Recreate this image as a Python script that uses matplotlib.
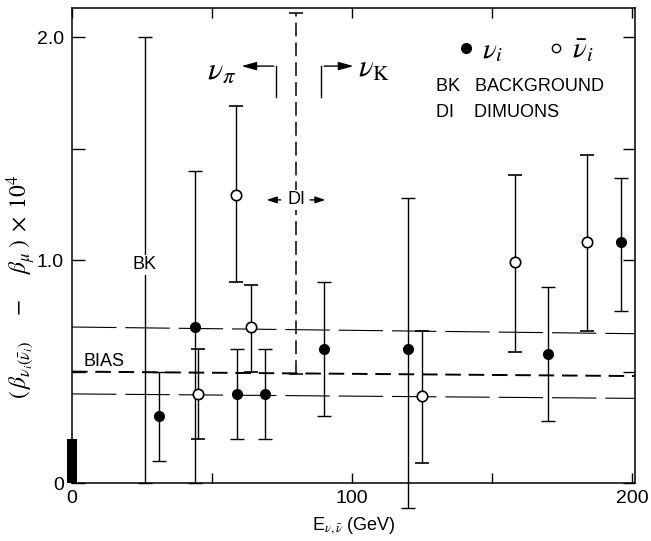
import matplotlib.pyplot as plt

plt.rcParams['font.family'] = ['Liberation Sans', 'DejaVu Sans']
plt.rcParams['mathtext.fontset'] = 'stix'

# neutrino points (filled)
nu_E = [31, 44, 59, 69, 90, 120, 170, 196]
nu_val = [0.30, 0.70, 0.40, 0.40, 0.60, 0.60, 0.58, 1.08]
nu_lo = [0.10, 0.00, 0.20, 0.20, 0.30, -0.11, 0.28, 0.77]
nu_hi = [0.50, 1.40, 0.60, 0.60, 0.90, 1.28, 0.88, 1.37]

# antineutrino points (open)
nubar_E = [45, 58.5, 64, 125, 158, 184]
nubar_val = [0.40, 1.29, 0.70, 0.39, 0.99, 1.08]
nubar_lo = [0.20, 0.90, 0.50, 0.09, 0.59, 0.68]
nubar_hi = [0.60, 1.69, 0.89, 0.68, 1.38, 1.47]

# reference lines: (left value, right value)
band_upper = [0.70, 0.67]
band_bias = [0.50, 0.48]
band_lower = [0.40, 0.38]
line_E = [0, 201]

bk_E = 26
bk_top = 2.0
di_E = 80
di_range = [0.49, 2.11]
zero_bar = 0.2

fig = plt.figure(figsize=(6.51, 5.41), dpi=100)
ax = fig.add_axes([0.1106, 0.107, 0.8648, 0.878])

ax.plot(line_E, band_upper, color='k', lw=0.8, dashes=(40, 8))
ax.plot(line_E, band_lower, color='k', lw=0.8, dashes=(40, 8))
ax.plot(line_E, band_bias, color='k', lw=1.4, dashes=(8, 4))

# background bar
ax.errorbar(bk_E, bk_top / 2, yerr=bk_top / 2, fmt='none', ecolor='k',
            elinewidth=1.0, capsize=5, capthick=1.0, clip_on=False)
ax.text(bk_E, 0.98, 'BK', ha='center', va='center', fontsize=13,
        bbox=dict(facecolor='white', edgecolor='none', pad=1), zorder=5)

# dimuon cut line
ax.plot([di_E, di_E], di_range, color='k', lw=1.1, dashes=(9, 4))
ax.plot([di_E, di_E], di_range, color='k', ls='none', marker='_',
        markersize=10, mew=1.1, clip_on=False)
ax.text(di_E, 1.27, 'DI', ha='center', va='center', fontsize=13,
        bbox=dict(facecolor='white', edgecolor='none', pad=1), zorder=5)
arr = dict(arrowstyle='-|>,head_length=0.6,head_width=0.2', color='k', lw=1.0)
ax.annotate('', xy=(68.5, 1.27), xytext=(75.5, 1.27), arrowprops=arr)
ax.annotate('', xy=(91.5, 1.27), xytext=(84, 1.27), arrowprops=arr)

# nu_pi / nu_K brackets
big = dict(arrowstyle='-|>,head_length=0.9,head_width=0.25', color='k', lw=1.0)
ax.plot([73, 73], [1.73, 1.87], color='k', lw=1.0)
ax.annotate('', xy=(59.5, 1.87), xytext=(73, 1.87), arrowprops=big)
ax.text(58.5, 1.85, r'$\nu_\pi$', ha='right', va='center', fontsize=23)
ax.plot([89, 89], [1.73, 1.87], color='k', lw=1.0)
ax.annotate('', xy=(101.5, 1.87), xytext=(89, 1.87), arrowprops=big)
ax.text(102, 1.86, r'$\nu_{\rm K}$', ha='left', va='center', fontsize=22)

ax.text(4, 0.545, 'BIAS', ha='left', va='center', fontsize=13)

# zero bar
ax.bar([0], [zero_bar], width=3.6, color='k', clip_on=False, zorder=4)

# data
nu_err = [[v - l for v, l in zip(nu_val, nu_lo)],
          [h - v for v, h in zip(nu_val, nu_hi)]]
ax.errorbar(nu_E, nu_val, yerr=nu_err, fmt='o', color='k', ms=7,
            elinewidth=1.0, capsize=5, capthick=1.0, clip_on=False, zorder=6)
nubar_err = [[v - l for v, l in zip(nubar_val, nubar_lo)],
             [h - v for v, h in zip(nubar_val, nubar_hi)]]
ax.errorbar(nubar_E, nubar_val, yerr=nubar_err, fmt='o', color='k', mfc='white',
            mew=1.2, ms=7.5, elinewidth=1.0, capsize=5, capthick=1.0,
            clip_on=False, zorder=6)

# key
ax.plot([140.7], [1.95], 'o', color='k', ms=7)
ax.text(146.5, 1.94, r'$\nu_i$', ha='left', va='center', fontsize=21)
ax.plot([172.9], [1.95], 'o', color='k', mfc='white', ms=6, mew=1.0)
ax.text(178.5, 1.94, r'$\bar{\nu}_i$', ha='left', va='center', fontsize=21)
ax.text(130, 1.78, 'BK   BACKGROUND', ha='left', va='center', fontsize=13)
ax.text(130, 1.66, 'DI    DIMUONS', ha='left', va='center', fontsize=13)

ax.set_xlim(0, 201)
ax.set_ylim(0, 2.13)
ax.set_xticks([0, 50, 100, 150, 200])
ax.set_xticklabels(['0', '', '100', '', '200'])
ax.set_yticks([0, 0.5, 1.0, 1.5, 2.0])
ax.set_yticklabels(['0', '', '1.0', '', '2.0'])
ax.tick_params(direction='in', length=9, width=1.0, top=True, right=True,
               labelsize=14, pad=6)
ax.tick_params(axis='x', length=7, pad=5)
for s in ax.spines.values():
    s.set_linewidth(1.1)

ax.set_xlabel(r'E$_{\nu,\bar{\nu}}$ (GeV)', fontsize=13, labelpad=6)
fig.text(21 / 651, 1 - 287 / 541,
         r'$(\,\beta_{\nu_i(\bar{\nu}_i)}\quad\;-\;\quad\beta_\mu\;)\;\times\;10^4$',
         rotation=90, ha='center', va='center', fontsize=17)

fig.savefig('out.png', dpi=100)
